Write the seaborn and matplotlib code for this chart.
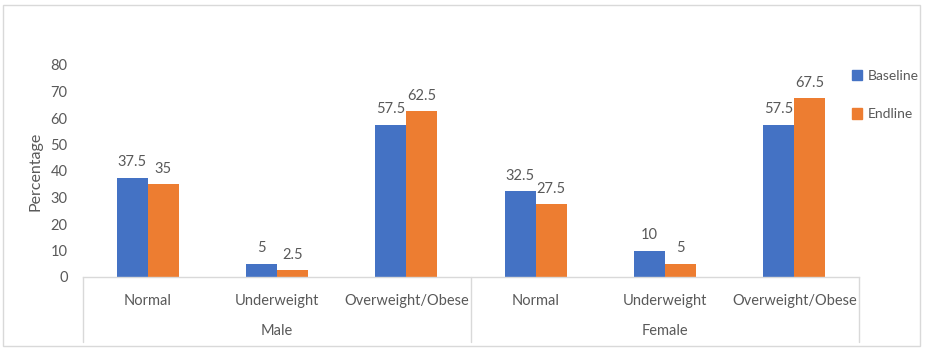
import matplotlib
matplotlib.use("Agg")
import matplotlib.pyplot as plt
import seaborn as sns
import pandas as pd
from matplotlib.patches import Rectangle
from matplotlib.lines import Line2D

groups = ["Male", "Male", "Male", "Female", "Female", "Female"]
categories = ["Normal", "Underweight", "Overweight/Obese",
              "Normal", "Underweight", "Overweight/Obese"]
baseline = [37.5, 5, 57.5, 32.5, 10, 57.5]
endline = [35, 2.5, 62.5, 27.5, 5, 67.5]
series_names = ["Baseline", "Endline"]
colors = ["#4472C4", "#ED7D31"]
text_color = "#595959"
line_color = "#D9D9D9"

keys = [f"{g}|{c}" for g, c in zip(groups, categories)]
df = pd.DataFrame({
    "key": keys * 2,
    "value": baseline + endline,
    "series": [series_names[0]] * len(keys) + [series_names[1]] * len(keys),
})

sns.set_theme(style="white")
plt.rcParams["font.family"] = ["Lato", "DejaVu Sans"]

fig = plt.figure(figsize=(9.26, 3.52), dpi=100)
ax = fig.add_axes([83 / 926, 1 - 277 / 352, (859 - 83) / 926, (277 - 65) / 352])

sns.barplot(data=df, x="key", y="value", hue="series", order=keys,
            palette=colors, width=0.48, gap=0, ax=ax, legend=False,
            saturation=1, linewidth=0)

for cont in ax.containers:
    ax.bar_label(cont, fmt="%g", padding=6, fontsize=10.5, color=text_color)

ax.set_ylim(0, 80)
ax.set_xlim(-0.5, len(keys) - 0.5)
ax.set_yticks(range(0, 81, 10))
ax.tick_params(axis="y", labelsize=10.5, labelcolor=text_color, length=0, pad=11)
ax.set_ylabel("Percentage", fontsize=11.5, color=text_color, labelpad=6)
ax.set_xlabel("")
ax.set_xticks(range(len(keys)))
ax.set_xticklabels(categories, fontsize=10.5, color=text_color)
ax.tick_params(axis="x", length=0, pad=12)
for s in ["top", "right", "left"]:
    ax.spines[s].set_visible(False)
ax.spines["bottom"].set_color(line_color)
ax.spines["bottom"].set_linewidth(1)

# multi-level axis separators
trans = ax.get_xaxis_transform()
bounds = [-0.5]
for i in range(1, len(groups)):
    if groups[i] != groups[i - 1]:
        bounds.append(i - 0.5)
bounds.append(len(groups) - 0.5)
y_bottom = -(342 - 277) / (277 - 65)
for b in bounds:
    ax.add_line(Line2D([b, b], [0, y_bottom], transform=trans, color=line_color,
                       lw=1, clip_on=False))
# group labels
seen = []
for g in groups:
    if g not in seen:
        seen.append(g)
for g in seen:
    idx = [i for i, gg in enumerate(groups) if gg == g]
    xc = sum(idx) / len(idx)
    ax.text(xc, -(331 - 277) / (277 - 65), g, transform=trans, ha="center",
            va="center", fontsize=10.5, color=text_color)

# legend
handles = [Rectangle((0, 0), 1, 1, color=c) for c in colors]
fig.legend(handles, series_names, loc="upper left",
           bbox_to_anchor=(852 / 926, 1 - 70 / 352), frameon=False,
           borderaxespad=0, borderpad=0,
           fontsize=10, labelcolor=text_color, handlelength=0.75,
           handleheight=0.75, handletextpad=0.35, labelspacing=1.9)

# chart border
fig.patches.append(Rectangle((3 / 926, 1 - 346 / 352), 917 / 926, 341 / 352,
                             transform=fig.transFigure, fill=False,
                             edgecolor=line_color, lw=1))

fig.savefig("out.png", dpi=100)
